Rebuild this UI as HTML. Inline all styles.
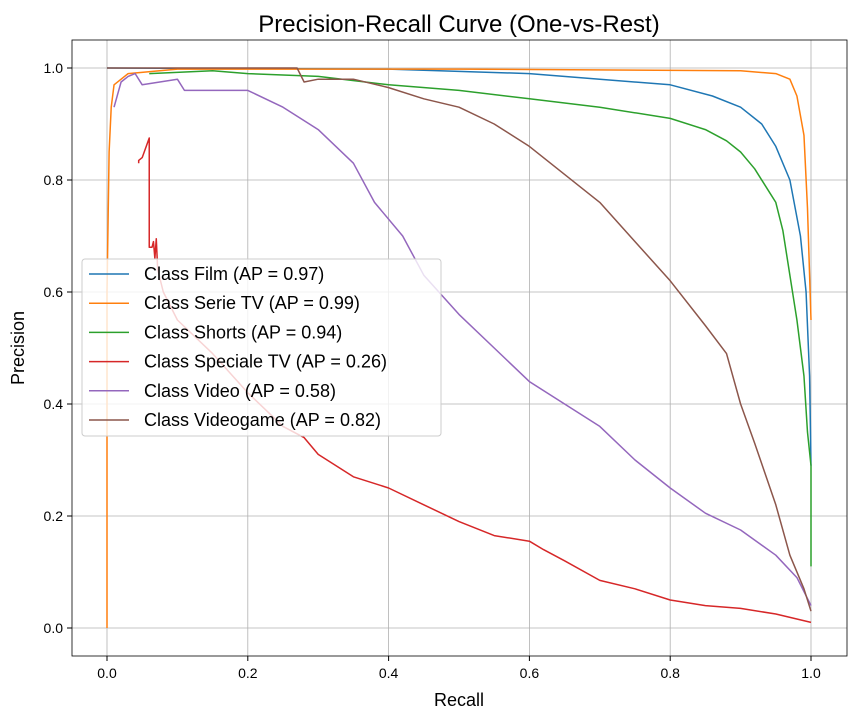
<!DOCTYPE html>
<html><head><meta charset="utf-8"><style>body{margin:0;background:#fff}svg{font-family:"Liberation Sans","DejaVu Sans",sans-serif}</style></head>
<body>
<svg id="c" width="856" height="719"></svg>
<script>
const classNames=["Class Film (AP = 0.97)","Class Serie TV (AP = 0.99)","Class Shorts (AP = 0.94)","Class Speciale TV (AP = 0.26)","Class Video (AP = 0.58)","Class Videogame (AP = 0.82)"];
const colors=["#1f77b4","#ff7f0e","#2ca02c","#d62728","#9467bd","#8c564b"];
const xTicks=[0,0.2,0.4,0.6,0.8,1.0];
const yTicks=[0,0.2,0.4,0.6,0.8,1.0];
const filmR=[0,0.4,0.6,0.7,0.8,0.86,0.9,0.93,0.95,0.97,0.985,0.993,0.998,1.0];
const filmP=[1.0,0.998,0.99,0.98,0.97,0.95,0.93,0.9,0.86,0.8,0.7,0.6,0.45,0.29];
const serieR=[0,0,0.003,0.006,0.01,0.03,0.1,0.5,0.9,0.95,0.97,0.98,0.99,0.995,1.0];
const serieP=[0,0.6,0.85,0.93,0.97,0.99,0.998,0.998,0.995,0.99,0.98,0.95,0.88,0.75,0.55];
const shortsR=[0.06,0.15,0.2,0.3,0.4,0.5,0.6,0.7,0.8,0.85,0.88,0.9,0.92,0.94,0.95,0.96,0.97,0.98,0.99,0.995,1.0,1.0];
const shortsP=[0.99,0.995,0.99,0.985,0.97,0.96,0.945,0.93,0.91,0.89,0.87,0.85,0.82,0.78,0.76,0.71,0.63,0.55,0.45,0.35,0.29,0.11];
const specR=[0.045,0.045,0.05,0.06,0.06,0.064,0.066,0.068,0.07,0.072,0.08,0.1,0.15,0.2,0.25,0.28,0.3,0.35,0.4,0.45,0.5,0.55,0.6,0.62,0.65,0.7,0.75,0.8,0.85,0.9,0.95,1.0];
const specP=[0.83,0.835,0.84,0.875,0.68,0.68,0.69,0.66,0.695,0.64,0.6,0.55,0.49,0.42,0.36,0.34,0.31,0.27,0.25,0.22,0.19,0.165,0.155,0.14,0.12,0.085,0.07,0.05,0.04,0.035,0.025,0.01];
const videoR=[0.01,0.02,0.03,0.04,0.05,0.1,0.11,0.2,0.25,0.3,0.35,0.38,0.42,0.45,0.5,0.55,0.6,0.65,0.7,0.75,0.8,0.85,0.9,0.95,0.98,1.0];
const videoP=[0.93,0.975,0.985,0.99,0.97,0.98,0.96,0.96,0.93,0.89,0.83,0.76,0.7,0.63,0.56,0.5,0.44,0.4,0.36,0.3,0.25,0.205,0.175,0.13,0.09,0.04];
const vgR=[0,0.27,0.28,0.3,0.35,0.4,0.45,0.5,0.55,0.6,0.65,0.7,0.75,0.8,0.85,0.88,0.9,0.92,0.95,0.97,0.99,1.0];
const vgP=[1.0,1.0,0.975,0.98,0.98,0.965,0.945,0.93,0.9,0.86,0.81,0.76,0.69,0.62,0.54,0.49,0.4,0.33,0.22,0.13,0.07,0.03];
const series=[[filmR,filmP],[serieR,serieP],[shortsR,shortsP],[specR,specP],[videoR,videoP],[vgR,vgP]];
const L=72,R=847,T=40,B=656;
const sx=v=>107+v*704, sy=v=>628-v*560;
const svg=document.getElementById('c');const NS='http://www.w3.org/2000/svg';
function mk(t,a,txt){const e=document.createElementNS(NS,t);for(const k in a)e.setAttribute(k,a[k]);if(txt!=null)e.textContent=txt;svg.appendChild(e);return e;}
xTicks.forEach(v=>{const g=mk('line',{x1:sx(v),x2:sx(v),y1:T,y2:B,stroke:'#b0b0b0','stroke-width':0.8});

mk('line',{x1:sx(v),x2:sx(v),y1:B,y2:B+5,stroke:'#000'});
const t=mk('text',{x:sx(v),y:B+22,'text-anchor':'middle','font-size':14},v.toFixed(1));
});
yTicks.forEach(v=>{const g=mk('line',{x1:L,x2:R,y1:sy(v),y2:sy(v),stroke:'#b0b0b0','stroke-width':0.8});

mk('line',{x1:L-5,x2:L,y1:sy(v),y2:sy(v),stroke:'#000'});
const t=mk('text',{x:L-9,y:sy(v)+5,'text-anchor':'end','font-size':14},v.toFixed(1));
});
series.forEach((s,i)=>{let d='';const [r,p]=s;
for(let j=0;j<r.length;j++){d+=(j==0?'M':' L')+sx(r[j])+' '+sy(p[j]);}
const e=mk('path',{d:d,fill:'none',stroke:colors[i],'stroke-width':1.5,'stroke-linejoin':'round'});
});
const fr=mk('rect',{x:L,y:T,width:R-L,height:B-T,fill:'none',stroke:'#000','stroke-width':0.8});

const lg=mk('rect',{x:82,y:259,width:359,height:177,fill:'#fff','fill-opacity':0.8,stroke:'#ccc',rx:3});

classNames.forEach((n,i)=>{const y=274+i*29.2;
mk('line',{x1:89,x2:129,y1:y,y2:y,stroke:colors[i],'stroke-width':1.5});
const t=mk('text',{x:144,y:y+6,'font-size':18},n);
});
const ti=mk('text',{x:459,y:32,'text-anchor':'middle','font-size':24},'Precision-Recall Curve (One-vs-Rest)');

const xl=mk('text',{x:459,y:706,'text-anchor':'middle','font-size':18},'Recall');

const yl=mk('text',{x:24,y:348,'text-anchor':'middle','font-size':18,transform:'rotate(-90 24 348)'},'Precision');

</script>
</body></html>
